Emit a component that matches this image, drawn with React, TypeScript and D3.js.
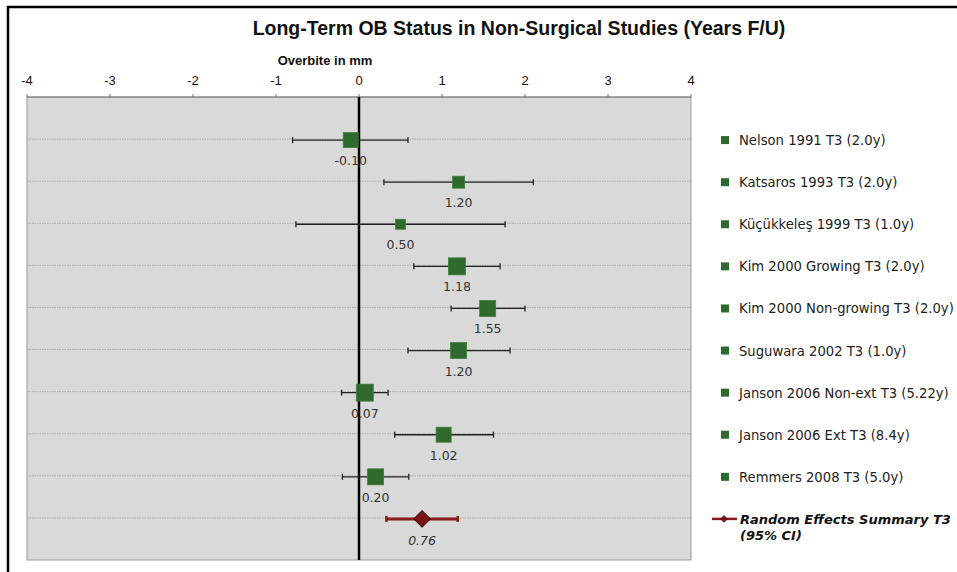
import React from 'react'
import * as d3 from 'd3'

const studies = [
  'Nelson 1991 T3 (2.0y)',
  'Katsaros 1993 T3 (2.0y)',
  'Küçükkeleş 1999 T3 (1.0y)',
  'Kim 2000 Growing T3 (2.0y)',
  'Kim 2000 Non-growing T3 (2.0y)',
  'Suguwara 2002 T3 (1.0y)',
  'Janson 2006 Non-ext T3 (5.22y)',
  'Janson 2006 Ext T3 (8.4y)',
  'Remmers 2008 T3 (5.0y)',
]
const means = [-0.1, 1.2, 0.5, 1.18, 1.55, 1.2, 0.07, 1.02, 0.2]
const lower = [-0.8, 0.3, -0.76, 0.66, 1.11, 0.59, -0.21, 0.43, -0.2]
const upper = [0.59, 2.1, 1.76, 1.7, 2.0, 1.82, 0.35, 1.62, 0.6]
// marker size ~ study weight
const weights = [15, 12, 10, 17, 16, 16, 17, 15, 16]

const summaryLabel = ['Random Effects Summary T3', '(95% CI)']
const summaryMean = 0.76
const summaryLower = 0.33
const summaryUpper = 1.19

const xTicks = [-4, -3, -2, -1, 0, 1, 2, 3, 4]

const W = 957
const H = 572
const left = 27
const right = 691
const top = 97
const bottom = 560
const green = '#2e6a2c'
const red = '#8a1c1c'

export default function App() {
  const x = d3.scaleLinear().domain([-4, 4]).range([left, right])
  const y = d3.scaleLinear().domain([0, 11]).range([top, bottom])
  const rows = d3.range(1, 11)
  const sy = y(10)

  return (
    <svg width={W} height={H} style={{ position: 'absolute', left: 0, top: 0 }}>
      <rect x={0} y={0} width={W} height={H} fill="#fff" />
      {/* outer frame */}
      <path d={`M8,${H} L8,7 L${W},7`} fill="none" stroke="#000" strokeWidth={2.5} />

      <text x={519} y={35} textAnchor="middle" fontFamily="Liberation Sans, sans-serif"
        fontWeight="bold" fontSize={19.5} fill="#111">
        Long-Term OB Status in Non-Surgical Studies (Years F/U)
      </text>
      <text x={325} y={65} textAnchor="middle" fontFamily="Liberation Sans, sans-serif"
        fontWeight="bold" fontSize={13} fill="#111">Overbite in mm</text>

      {/* plot area */}
      <rect x={left} y={top} width={right - left} height={bottom - top}
        fill="#d9d9d9" stroke="#9a9a9a" strokeWidth={1} />
      {rows.map(r => (
        <line key={r} x1={left} x2={right} y1={y(r)} y2={y(r)}
          stroke="#a8a8a8" strokeWidth={1} strokeDasharray="1.5,1" />
      ))}

      {/* top axis */}
      <line x1={left} x2={right} y1={top} y2={top} stroke="#777" strokeWidth={1.2} />
      {xTicks.map(t => (
        <g key={t}>
          <line x1={x(t)} x2={x(t)} y1={top - 3} y2={top} stroke="#777" />
          <text x={x(t)} y={85} textAnchor="middle" fontFamily="Liberation Sans, sans-serif"
            fontSize={13} fill="#111">{t}</text>
        </g>
      ))}

      {/* zero line */}
      <line x1={x(0)} x2={x(0)} y1={top} y2={bottom} stroke="#000" strokeWidth={2.5} />

      {/* studies */}
      {studies.map((s, i) => {
        const cy = y(i + 1) + 1
        const w = weights[i]
        return (
          <g key={s}>
            <line x1={x(lower[i])} x2={x(upper[i])} y1={cy} y2={cy} stroke="#222" strokeWidth={1.3} />
            <line x1={x(lower[i])} x2={x(lower[i])} y1={cy - 3} y2={cy + 3} stroke="#222" strokeWidth={1.3} />
            <line x1={x(upper[i])} x2={x(upper[i])} y1={cy - 3} y2={cy + 3} stroke="#222" strokeWidth={1.3} />
            <rect x={x(means[i]) - w / 2} y={cy - w / 2} width={w} height={w}
              fill={green} stroke="#3f7f3c" strokeWidth={0.8} />
            <text x={x(means[i])} y={cy + 25} textAnchor="middle"
              fontFamily="DejaVu Sans, sans-serif" fontSize={12.5} fill="#333">
              {means[i].toFixed(2)}
            </text>
            <rect x={721} y={cy - 4} width={8} height={8} fill={green} />
            <text x={739} y={cy + 5} fontFamily="DejaVu Sans, sans-serif" fontSize={13.2} fill="#222">{s}</text>
          </g>
        )
      })}

      {/* summary */}
      <g>
        <line x1={x(summaryLower)} x2={x(summaryUpper)} y1={sy + 1} y2={sy + 1} stroke={red} strokeWidth={3} />
        <line x1={x(summaryLower)} x2={x(summaryLower)} y1={sy - 2} y2={sy + 4} stroke={red} strokeWidth={2.5} />
        <line x1={x(summaryUpper)} x2={x(summaryUpper)} y1={sy - 2} y2={sy + 4} stroke={red} strokeWidth={2.5} />
        <path d={d3.symbol(d3.symbolDiamond2, 180)() as string}
          transform={`translate(${x(summaryMean)},${sy + 1})`}
          fill="#7a1616" stroke="#1a0000" strokeWidth={1} />
        <text x={x(summaryMean)} y={sy + 27} textAnchor="middle" fontStyle="italic"
          fontFamily="DejaVu Sans, sans-serif" fontSize={12.5} fill="#333">
          {summaryMean.toFixed(2)}
        </text>
        <line x1={712} x2={737} y1={sy + 1} y2={sy + 1} stroke={red} strokeWidth={2.5} />
        <path d={d3.symbol(d3.symbolDiamond2, 30)() as string}
          transform={`translate(724,${sy + 1})`} fill="#7a1616" stroke="#1a0000" strokeWidth={0.6} />
        <text x={740} y={sy + 6} fontFamily="DejaVu Sans, sans-serif" fontSize={13}
          fontWeight="bold" fontStyle="italic" fill="#111">{summaryLabel[0]}</text>
        <text x={740} y={sy + 22} fontFamily="DejaVu Sans, sans-serif" fontSize={13}
          fontWeight="bold" fontStyle="italic" fill="#111">{summaryLabel[1]}</text>
      </g>
    </svg>
  )
}
